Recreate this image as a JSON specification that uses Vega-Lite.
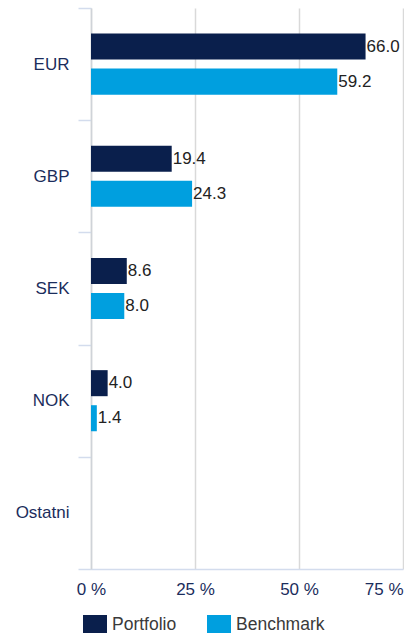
{
  "$schema": "https://vega.github.io/schema/vega-lite/v6.json",
  "autosize": "none",
  "width": 312,
  "height": 561,
  "padding": {"left": 91, "top": 8, "right": 1, "bottom": 64},
  "background": "white",
  "config": {
    "view": {"stroke": null},
    "font": "Liberation Sans"
  },
  "data": {
    "values": [
      {"currency": "EUR", "series": "Portfolio", "value": 66.0},
      {"currency": "EUR", "series": "Benchmark", "value": 59.2},
      {"currency": "GBP", "series": "Portfolio", "value": 19.4},
      {"currency": "GBP", "series": "Benchmark", "value": 24.3},
      {"currency": "SEK", "series": "Portfolio", "value": 8.6},
      {"currency": "SEK", "series": "Benchmark", "value": 8.0},
      {"currency": "NOK", "series": "Portfolio", "value": 4.0},
      {"currency": "NOK", "series": "Benchmark", "value": 1.4}
    ]
  },
  "encoding": {
    "y": {
      "field": "currency",
      "type": "nominal",
      "scale": {"domain": ["EUR", "GBP", "SEK", "NOK", "Ostatni"], "paddingInner": 0, "paddingOuter": 0},
      "axis": {
        "title": null,
        "tickBand": "extent",
        "tickSize": 13,
        "tickColor": "#d3dced",
        "tickWidth": 1.5,
        "domainColor": "#cfd3d8",
        "domainWidth": 1.5,
        "labelPadding": 9,
        "labelFontSize": 17,
        "labelColor": "#1b2d5c",
        "grid": false
      }
    },
    "yOffset": {
      "field": "series",
      "type": "nominal",
      "sort": ["Portfolio", "Benchmark"],
      "scale": {"paddingInner": 0.257, "paddingOuter": 0.729}
    },
    "x": {
      "field": "value",
      "type": "quantitative",
      "scale": {"domain": [0, 75], "nice": false},
      "axis": {
        "title": null,
        "values": [0, 25, 50, 75],
        "labelExpr": "datum.value + ' %'",
        "labelAlign": {"expr": "datum.value == 75 ? 'right' : 'center'"},
        "ticks": false,
        "grid": true,
        "gridColor": "#d9d9d9",
        "gridWidth": 1.5,
        "domainColor": "#d3dced",
        "domainWidth": 1.5,
        "labelPadding": 12,
        "labelFontSize": 17,
        "labelColor": "#1b2d5c"
      }
    }
  },
  "layer": [
    {
      "mark": {"type": "bar"},
      "encoding": {
        "color": {
          "field": "series",
          "type": "nominal",
          "sort": ["Portfolio", "Benchmark"],
          "scale": {"domain": ["Portfolio", "Benchmark"], "range": ["#0a1f4c", "#009fdf"]},
          "legend": {
            "title": null,
            "orient": "none",
            "direction": "horizontal",
            "legendX": -6,
            "legendY": 607,
            "symbolType": "M-1.2,-1L1.2,-1L1.2,1L-1.2,1Z",
            "symbolSize": 400,
            "symbolStrokeWidth": 0,
            "labelFontSize": 17.5,
            "labelColor": "#3a3a3a",
            "labelOffset": 7,
            "columnPadding": 30
          }
        }
      }
    },
    {
      "mark": {"type": "text", "align": "left", "baseline": "middle", "dx": 1, "fontSize": 17, "color": "#222222"},
      "encoding": {
        "text": {"field": "value", "type": "quantitative", "format": ".1f"}
      }
    }
  ]
}
